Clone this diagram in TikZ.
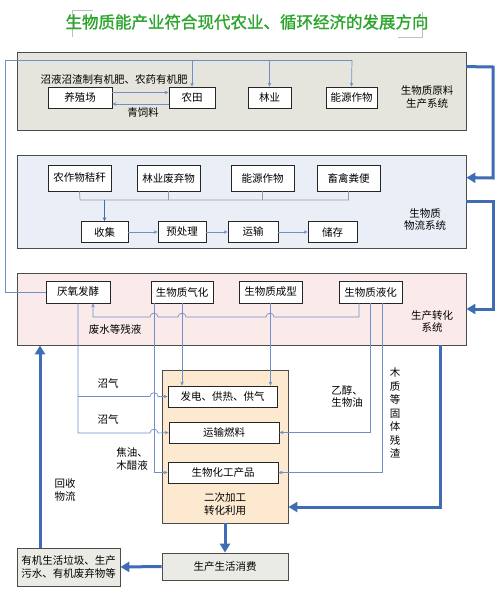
\documentclass[tikz,border=0pt]{standalone}
\usepackage{fontspec}
\setmainfont{Noto Sans CJK SC}
\newfontfamily\titlefont{Noto Sans CJK SC}[FakeBold=1.2]
\usetikzlibrary{arrows.meta,calc}
\definecolor{thkc}{HTML}{3E6DB5}
\definecolor{thnc}{HTML}{6F8FC8}
\definecolor{grayln}{HTML}{9A9A9A}
\definecolor{fa}{HTML}{E5E5DD}
\definecolor{fb}{HTML}{EAEFF7}
\definecolor{fc}{HTML}{FBEAEA}
\definecolor{fd}{HTML}{FCE9D0}
\definecolor{fe}{HTML}{EBEBE6}
\definecolor{titlec}{HTML}{2BA52B}
\begin{document}
\begin{tikzpicture}[x=1pt,y=-1pt,
  big/.style={draw=black!70, line width=0.8pt, rectangle, inner sep=0pt},
  ibox/.style={draw=black!85, fill=white, line width=0.7pt, rectangle, inner sep=0pt, font=\fontsize{10.5}{12}\selectfont},
  lbl/.style={inner sep=0pt, font=\fontsize{10.5}{12.5}\selectfont, align=center},
  thk/.style={draw=thkc, line width=3pt, -{Triangle[length=9pt,width=10pt]}},
  thn/.style={draw=thnc, line width=0.7pt},
  tarr/.style={thn, -{Stealth[length=4pt,width=3.5pt]}},
  gln/.style={draw=grayln, line width=0.7pt}]
\useasboundingbox (0,0) rectangle (499,597);
\fill[white] (0,0) rectangle (499,597);

% title
\draw[black!25, line width=1pt] (93,10) -- (72,10) -- (72,37);
\draw[black!25, line width=1pt] (422,12) -- (422,37) -- (398,37);
\node[inner sep=0pt, font=\titlefont\fontsize{16.5}{18}\selectfont, text=titlec] (title) at (247,22) {生物质能产业符合现代农业、循环经济的发展方向};

% big boxes
\node[big, fill=fa, minimum width=449pt, minimum height=78pt] (b1) at (241.5,91) {};
\node[big, fill=fb, minimum width=449pt, minimum height=93pt] (b2) at (241.5,201.5) {};
\node[big, fill=fc, minimum width=449pt, minimum height=72pt] (b3) at (241.5,309) {};
\node[big, fill=fd, minimum width=126pt, minimum height=153pt] (sec) at (225,446.5) {};
\node[big, fill=fe, minimum width=126pt, minimum height=27pt, font=\fontsize{10.5}{12}\selectfont] (cons) at (225,566.5) {生产生活消费};
\node[big, fill=fe, minimum width=103pt, minimum height=38pt, font=\fontsize{10.5}{13.5}\selectfont, align=center] (waste) at (68.5,567) {有机生活垃圾、生产\\污水、有机废弃物等};

% box 1 contents
\node[ibox, minimum width=64pt, minimum height=21pt] (yzc) at (80,97.5) {养殖场};
\node[ibox, minimum width=46pt, minimum height=21pt] (nt) at (192,97.5) {农田};
\node[ibox, minimum width=43pt, minimum height=21pt] (ly) at (269.5,97.5) {林业};
\node[ibox, minimum width=51pt, minimum height=21pt] (nyzw) at (351.5,97.5) {能源作物};
\node[lbl] (l1) at (114,79) {沼液沼渣制有机肥、农药有机肥};
\node[lbl] (l2) at (143,113) {青饲料};
\node[lbl] (l3) at (427,97) {生物质原料\\生产系统};

% box 2 contents
\node[ibox, minimum width=63pt, minimum height=26pt] (m1) at (79.5,178) {农作物秸秆};
\node[ibox, minimum width=63pt, minimum height=26pt] (m2) at (168.5,178) {林业废弃物};
\node[ibox, minimum width=63pt, minimum height=26pt] (m3) at (262.5,178) {能源作物};
\node[ibox, minimum width=63pt, minimum height=26pt] (m4) at (348.5,178) {畜禽粪便};
\node[ibox, minimum width=47pt, minimum height=21pt] (c1) at (104.5,232) {收集};
\node[ibox, minimum width=48pt, minimum height=21pt] (c2) at (182,232) {预处理};
\node[ibox, minimum width=50pt, minimum height=21pt] (c3) at (253,232) {运输};
\node[ibox, minimum width=49pt, minimum height=21pt] (c4) at (332.5,232) {储存};
\node[lbl] (l4) at (425,219.5) {生物质\\物流系统};

% box 3 contents
\node[ibox, minimum width=64pt, minimum height=22pt] (p1) at (78,292) {厌氧发酵};
\node[ibox, minimum width=62pt, minimum height=22pt] (p2) at (182,292) {生物质气化};
\node[ibox, minimum width=63pt, minimum height=22pt] (p3) at (270.5,292) {生物质成型};
\node[ibox, minimum width=63pt, minimum height=22pt] (p4) at (370.5,292) {生物质液化};
\node[lbl] (l5) at (432,321.5) {生产转化\\系统};
\node[lbl] (l6) at (115,330) {废水等残液};

% secondary box contents
\node[ibox, minimum width=109pt, minimum height=21pt] (s1) at (222.5,396.5) {发电、供热、供气};
\node[ibox, minimum width=110pt, minimum height=21pt] (s2) at (224,432.5) {运输燃料};
\node[ibox, minimum width=110pt, minimum height=21pt] (s3) at (223,472.5) {生物化工产品};
\node[lbl] (l7) at (225,504) {二次加工\\转化利用};

% other labels
\node[lbl] (g1) at (108,383) {沼气};
\node[lbl] (g2) at (108,419) {沼气};
\node[lbl, align=left] (g3) at (132,459) {焦油、\\木醋液};
\node[lbl, align=left] (g4) at (347,396.5) {乙醇、\\生物油};
\node[lbl, font=\fontsize{10.5}{13.5}\selectfont] (g5) at (395,413) {木\\质\\等\\固\\体\\残\\渣};
\node[lbl, align=left] (g6) at (65,490) {回收\\物流};

% box 1 connectors
\draw[thn] (p1.west) -- (5,292) -- (5,60) coordinate (tl) -- (352,60) coordinate (tr);
\draw[tarr] (nt.north |- tl) -- (nt.north);
\draw[tarr] (ly.north |- tl) -- (ly.north);
\draw[tarr] (tr) -- (nyzw.north);
\draw[tarr] ([yshift=5pt]yzc.east) -- ([yshift=5pt]nt.west);
\draw[tarr] ([yshift=-6.5pt]nt.west) -- ([yshift=-6.5pt]yzc.east);

% box 2 connectors
\draw[gln] (m1.south) -- (80,200) coordinate (hl) -- (349,200);
\draw[gln] (m2.south) -- (m2.south |- hl);
\draw[gln] (m3.south) -- (m3.south |- hl);
\draw[gln] (m4.south) -- (m4.south |- hl);
\draw[tarr, draw=thkc] (c1.north |- hl) -- (c1.north);
\draw[tarr] (c1) -- (c2);
\draw[tarr] (c2) -- (c3);
\draw[tarr] (c3) -- (c4);

% box 3 waste line
\draw[tarr] (p4.south -| 359,0) -- (359,317) -- (274,317) .. controls (274,312) and (266,312) .. (266,317)
  -- (186,317) .. controls (186,312) and (178,312) .. (178,317)
  -- (158,317) .. controls (158,312) and (150,312) .. (150,317)
  -- (93,317) -- (p1.south -| 93,0);

% lines to secondary
\draw[tarr] (p1.south) -- (78,433) -- (150,433) .. controls (150,428) and (158,428) .. (158,433) -- (s2.west);
\draw[tarr] (78,396.5) -- (150,396.5) .. controls (150,391.5) and (158,391.5) .. (158,396.5) -- (s1.west);
\draw[tarr] (p2.south -| 154,0) -- (154,472.5) -- (s3.west);
\draw[tarr] (p2.south) -- (s1.north -| p2.south);
\draw[tarr] (p3.south) -- (s1.north -| p3.south);
\draw[tarr] (p4.south) -- (370.5,432.5) -- (s2.east);
\draw[tarr] (p4.south -| 382,0) -- (382,472.5) -- (s3.east);

% thick arrows
\draw[thk] ([yshift=-15pt]b1.north east) -- (493,67) -- (493,178) -- ([yshift=-23pt]b2.north east);
\draw[thk] (b2.east) -- (493,201.5) -- (493,309) -- (b3.east);
\draw[thk] (b3.south -| 440,0) -- (440,507) -- (sec.east |- 0,507);
\draw[thk] (sec.south) -- (cons.north);
\draw[thk] (cons.west) -- (waste.east);
\draw[thk] (waste.north -| 40,0) -- (b3.south -| 40,0);
\end{tikzpicture}
\end{document}
